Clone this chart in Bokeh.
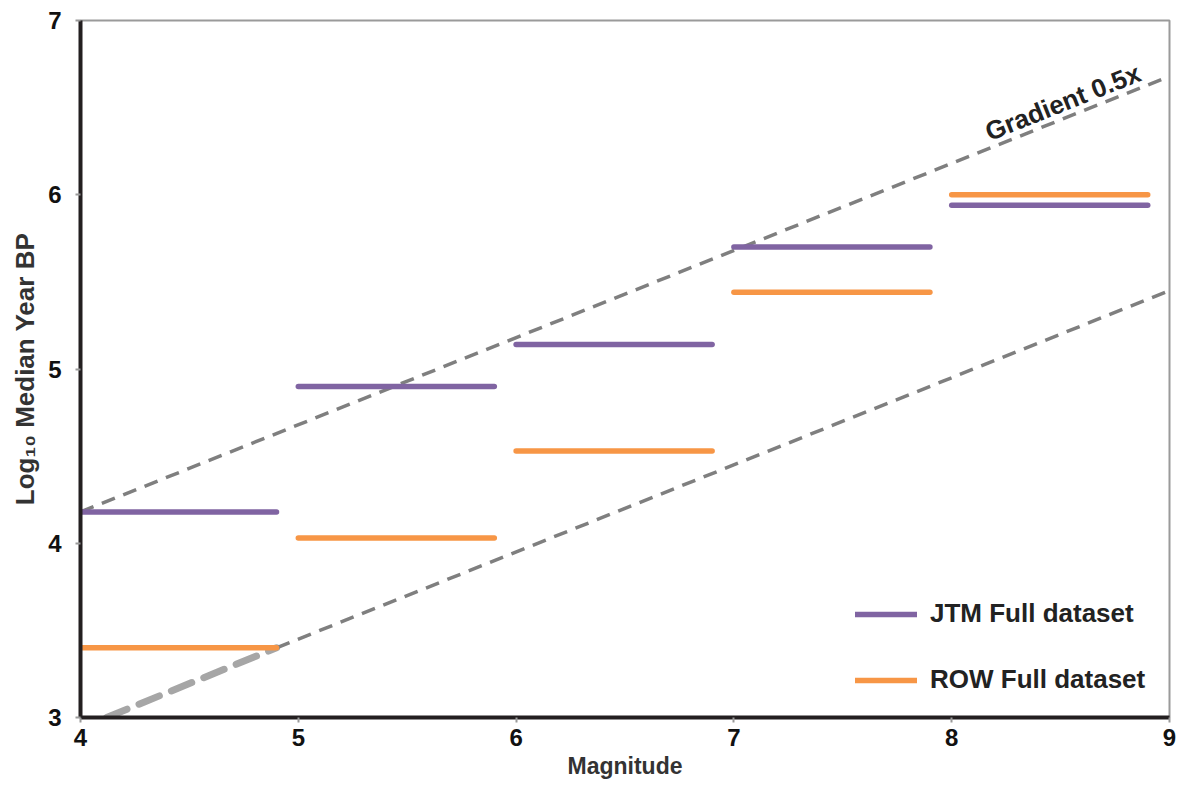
import math
from bokeh.plotting import figure
from bokeh.models import Range1d, Legend, LegendItem, FixedTicker
from bokeh.core.properties import value
from bokeh.embed import file_html
from bokeh.resources import INLINE

# ---- data ----
magnitudes = [4, 5, 6, 7, 8]
bin_width = 0.9
jtm_full = [4.18, 4.90, 5.14, 5.70, 5.94]
row_full = [3.40, 4.03, 4.53, 5.44, 6.00]

upper_x = [4.0, 9.0]
upper_y = [4.18, 6.68]
lower_x = [4.9, 9.0]
lower_y = [3.40, 5.45]
lower_ext_x = [4.12, 4.9]
lower_ext_y = [3.00, 3.40]

x_ticks = [4, 5, 6, 7, 8, 9]
y_ticks = [3, 4, 5, 6, 7]

FONT = "Liberation Sans"
PURPLE = "#8064A2"
ORANGE = "#F79646"

p = figure(width=1185, height=794, frame_width=1089, frame_height=697,
           output_backend="svg", toolbar_location=None,
           x_range=Range1d(4, 9), y_range=Range1d(3, 7),
           min_border_left=80, min_border_right=16, min_border_top=20, min_border_bottom=77)
p.grid.visible = False
p.outline_line_color = "#9a9a9a"
p.outline_line_width = 2
p.background_fill_color = "white"
p.border_fill_color = "white"

for ax in (p.xaxis[0], p.yaxis[0]):
    ax.axis_line_color = "#231f20"
    ax.axis_line_width = 4
    ax.major_tick_line_color = "#9a9a9a"
    ax.major_tick_line_width = 2
    ax.major_tick_out = 5
    ax.major_tick_in = 0
    ax.minor_tick_line_color = None
    ax.major_label_text_font = FONT
    ax.major_label_text_font_style = "bold"
    ax.major_label_text_font_size = "24px"
    ax.major_label_text_color = "#111111"
    ax.axis_label_text_font = FONT
    ax.axis_label_text_font_style = "bold"
    ax.axis_label_text_color = "#333333"

p.xaxis.axis_label_text_font_size = "23px"
p.yaxis.axis_label_text_font_size = "26px"
p.xaxis.ticker = FixedTicker(ticks=x_ticks)
p.yaxis.ticker = FixedTicker(ticks=y_ticks)
p.xaxis.axis_label = "Magnitude"
p.yaxis.axis_label = "Log\u2081\u2080 Median Year BP"
p.xaxis.major_label_standoff = 6
p.yaxis.major_label_standoff = 14
p.xaxis.axis_label_standoff = 4
p.yaxis.axis_label_standoff = 5

# trend lines
p.line(lower_ext_x, lower_ext_y, line_color="#a6a6a6", line_width=7,
       line_dash="22 13", line_cap="round")
p.line(upper_x, upper_y, line_color="#7f7f7f", line_width=3.5, line_dash="14 9")
p.line(lower_x, lower_y, line_color="#7f7f7f", line_width=3.5, line_dash="14 9")

x_end = [m + bin_width for m in magnitudes]
r_row = p.segment(x0=magnitudes, y0=row_full, x1=x_end, y1=row_full,
                  line_color=ORANGE, line_width=5.5, line_cap="round")
r_jtm = p.segment(x0=magnitudes, y0=jtm_full, x1=x_end, y1=jtm_full,
                  line_color=PURPLE, line_width=5.5, line_cap="round")

angle = math.atan(0.5 * (697 / 4) / (1089 / 5))
p.text(x=[8.51], y=[6.53], text=["Gradient 0.5x"], angle=angle,
       text_font=value(FONT), text_font_style="bold", text_font_size="26px",
       text_color="#222222", text_align="center", text_baseline="middle")

legend = Legend(items=[LegendItem(label="JTM Full dataset", renderers=[r_jtm]),
                       LegendItem(label="ROW Full dataset", renderers=[r_row])],
                location=(775, 22), orientation="vertical",
                glyph_width=62, glyph_height=24, label_height=24,
                label_standoff=13, spacing=35, padding=0, margin=0,
                border_line_color=None, background_fill_alpha=0,
                label_text_font=FONT, label_text_font_style="bold",
                label_text_font_size="26px", label_text_color="#222222")
p.add_layout(legend)

open("out.html", "w").write(file_html(p, INLINE))
